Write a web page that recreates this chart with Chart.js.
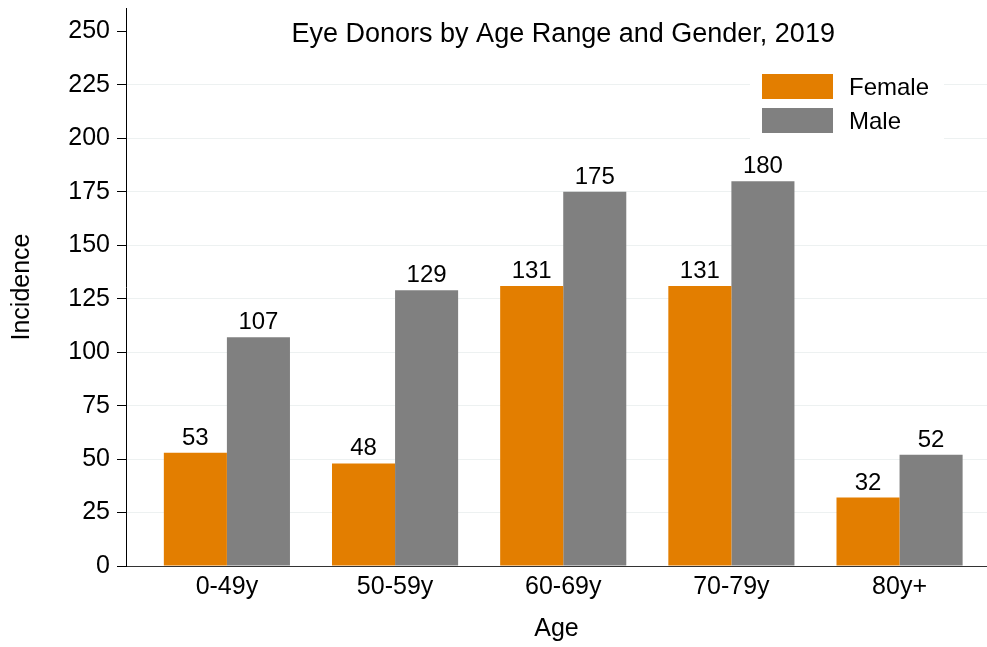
<!DOCTYPE html>
<html>
<head>
<meta charset="utf-8">
<script src="https://cdn.jsdelivr.net/npm/chart.js@4/dist/chart.umd.min.js"></script>
<style>
  body { margin: 0; background: #fff; }
  #wrap { width: 987px; height: 647px; position: relative; }
</style>
</head>
<body>
<div id="wrap"><canvas id="donorChart"></canvas></div>
<script>
const ageGroups = ['0-49y', '50-59y', '60-69y', '70-79y', '80y+'];
const femaleCounts = [53, 48, 131, 131, 32];
const maleCounts = [107, 129, 175, 180, 52];
const yTickValues = [0, 25, 50, 75, 100, 125, 150, 175, 200, 225, 250];
const seriesNames = ['Female', 'Male'];
const seriesColors = ['#e37e00', '#808080'];
const chartTitle = 'Eye Donors by Age Range and Gender, 2019';

const FONT = "'Liberation Sans', Arial, sans-serif";
Chart.defaults.font.family = FONT;
Chart.defaults.font.size = 25;
Chart.defaults.color = '#000';

function toPoints(values) {
    return values.map((v, i) => ({ x: i, y: v }));
}

// title, legend box and value labels drawn on top
const overlay = {
    id: 'overlay',
    afterDraw(chart) {
        const { ctx, chartArea, scales } = chart;
        ctx.save();
        ctx.fillStyle = '#000';

        // title
        const cx = (scales.x.getPixelForValue(0) + scales.x.getPixelForValue(ageGroups.length - 1)) / 2;
        ctx.font = '27px ' + FONT;
        ctx.textAlign = 'center';
        ctx.textBaseline = 'alphabetic';
        ctx.fillText(chartTitle, cx, scales.y.getPixelForValue(250) + 10);

        // value labels
        ctx.font = '24px ' + FONT;
        chart.data.datasets.forEach((ds, di) => {
            chart.getDatasetMeta(di).data.forEach((bar, i) => {
                ctx.fillText(String(ds.data[i].y), bar.x, bar.y - 8);
            });
        });

        // legend
        const r = chartArea.right;
        const top = chartArea.top;
        ctx.fillStyle = '#fff';
        ctx.fillRect(r - 237, top + 56, 194, 84);
        ctx.textAlign = 'left';
        chart.data.datasets.forEach((ds, di) => {
            const y = top + 66 + di * 34;
            ctx.fillStyle = ds.backgroundColor;
            ctx.fillRect(r - 225, y, 71, 25);
            ctx.fillStyle = '#000';
            ctx.fillText(ds.label, r - 138, y + 21);
        });
        ctx.restore();
    }
};

const ctx = document.getElementById('donorChart').getContext('2d');
new Chart(ctx, {
    type: 'bar',
    data: {
        datasets: [
            { label: seriesNames[0], data: toPoints(femaleCounts), backgroundColor: seriesColors[0] },
            { label: seriesNames[1], data: toPoints(maleCounts), backgroundColor: seriesColors[1] }
        ]
    },
    options: {
        responsive: true,
        maintainAspectRatio: false,
        animation: false,
        layout: { padding: { top: 8, left: 0, right: 0, bottom: 0 } },
        categoryPercentage: 0.75,
        barPercentage: 1.0,
        plugins: {
            legend: { display: false },
            tooltip: { enabled: false }
        },
        scales: {
            x: {
                type: 'linear',
                offset: false,
                min: -0.6,
                max: 4.52,
                afterBuildTicks: s => { s.ticks = ageGroups.map((_, i) => ({ value: i })); },
                afterFit: s => { s.height = 81; s.paddingLeft = 0; s.paddingRight = 0; },
                ticks: {
                    padding: 6,
                    maxRotation: 0,
                    autoSkip: false,
                    callback: v => ageGroups[v] ?? ''
                },
                grid: { display: false, drawTicks: false, offset: false },
                border: { display: true, color: '#333', width: 1 },
                title: { display: true, text: 'Age', padding: { top: 0, bottom: 3 } }
            },
            y: {
                min: 0,
                max: 261,
                afterBuildTicks: s => { s.ticks = yTickValues.map(v => ({ value: v })); },
                afterFit: s => { s.width = 126; s.paddingTop = 0; s.paddingBottom = 0; },
                ticks: { padding: 7 },
                grid: {
                    tickLength: 9,
                    tickColor: '#000',
                    color: c => (c.tick && (c.tick.value === 0 || c.tick.value === 250)) ? 'rgba(0,0,0,0)' : '#edf1f1'
                },
                border: { display: true, color: '#000', width: 1 },
                title: { display: true, text: 'Incidence', padding: { top: 7, bottom: 0 } }
            }
        }
    },
    plugins: [overlay]
});
</script>
</body>
</html>
